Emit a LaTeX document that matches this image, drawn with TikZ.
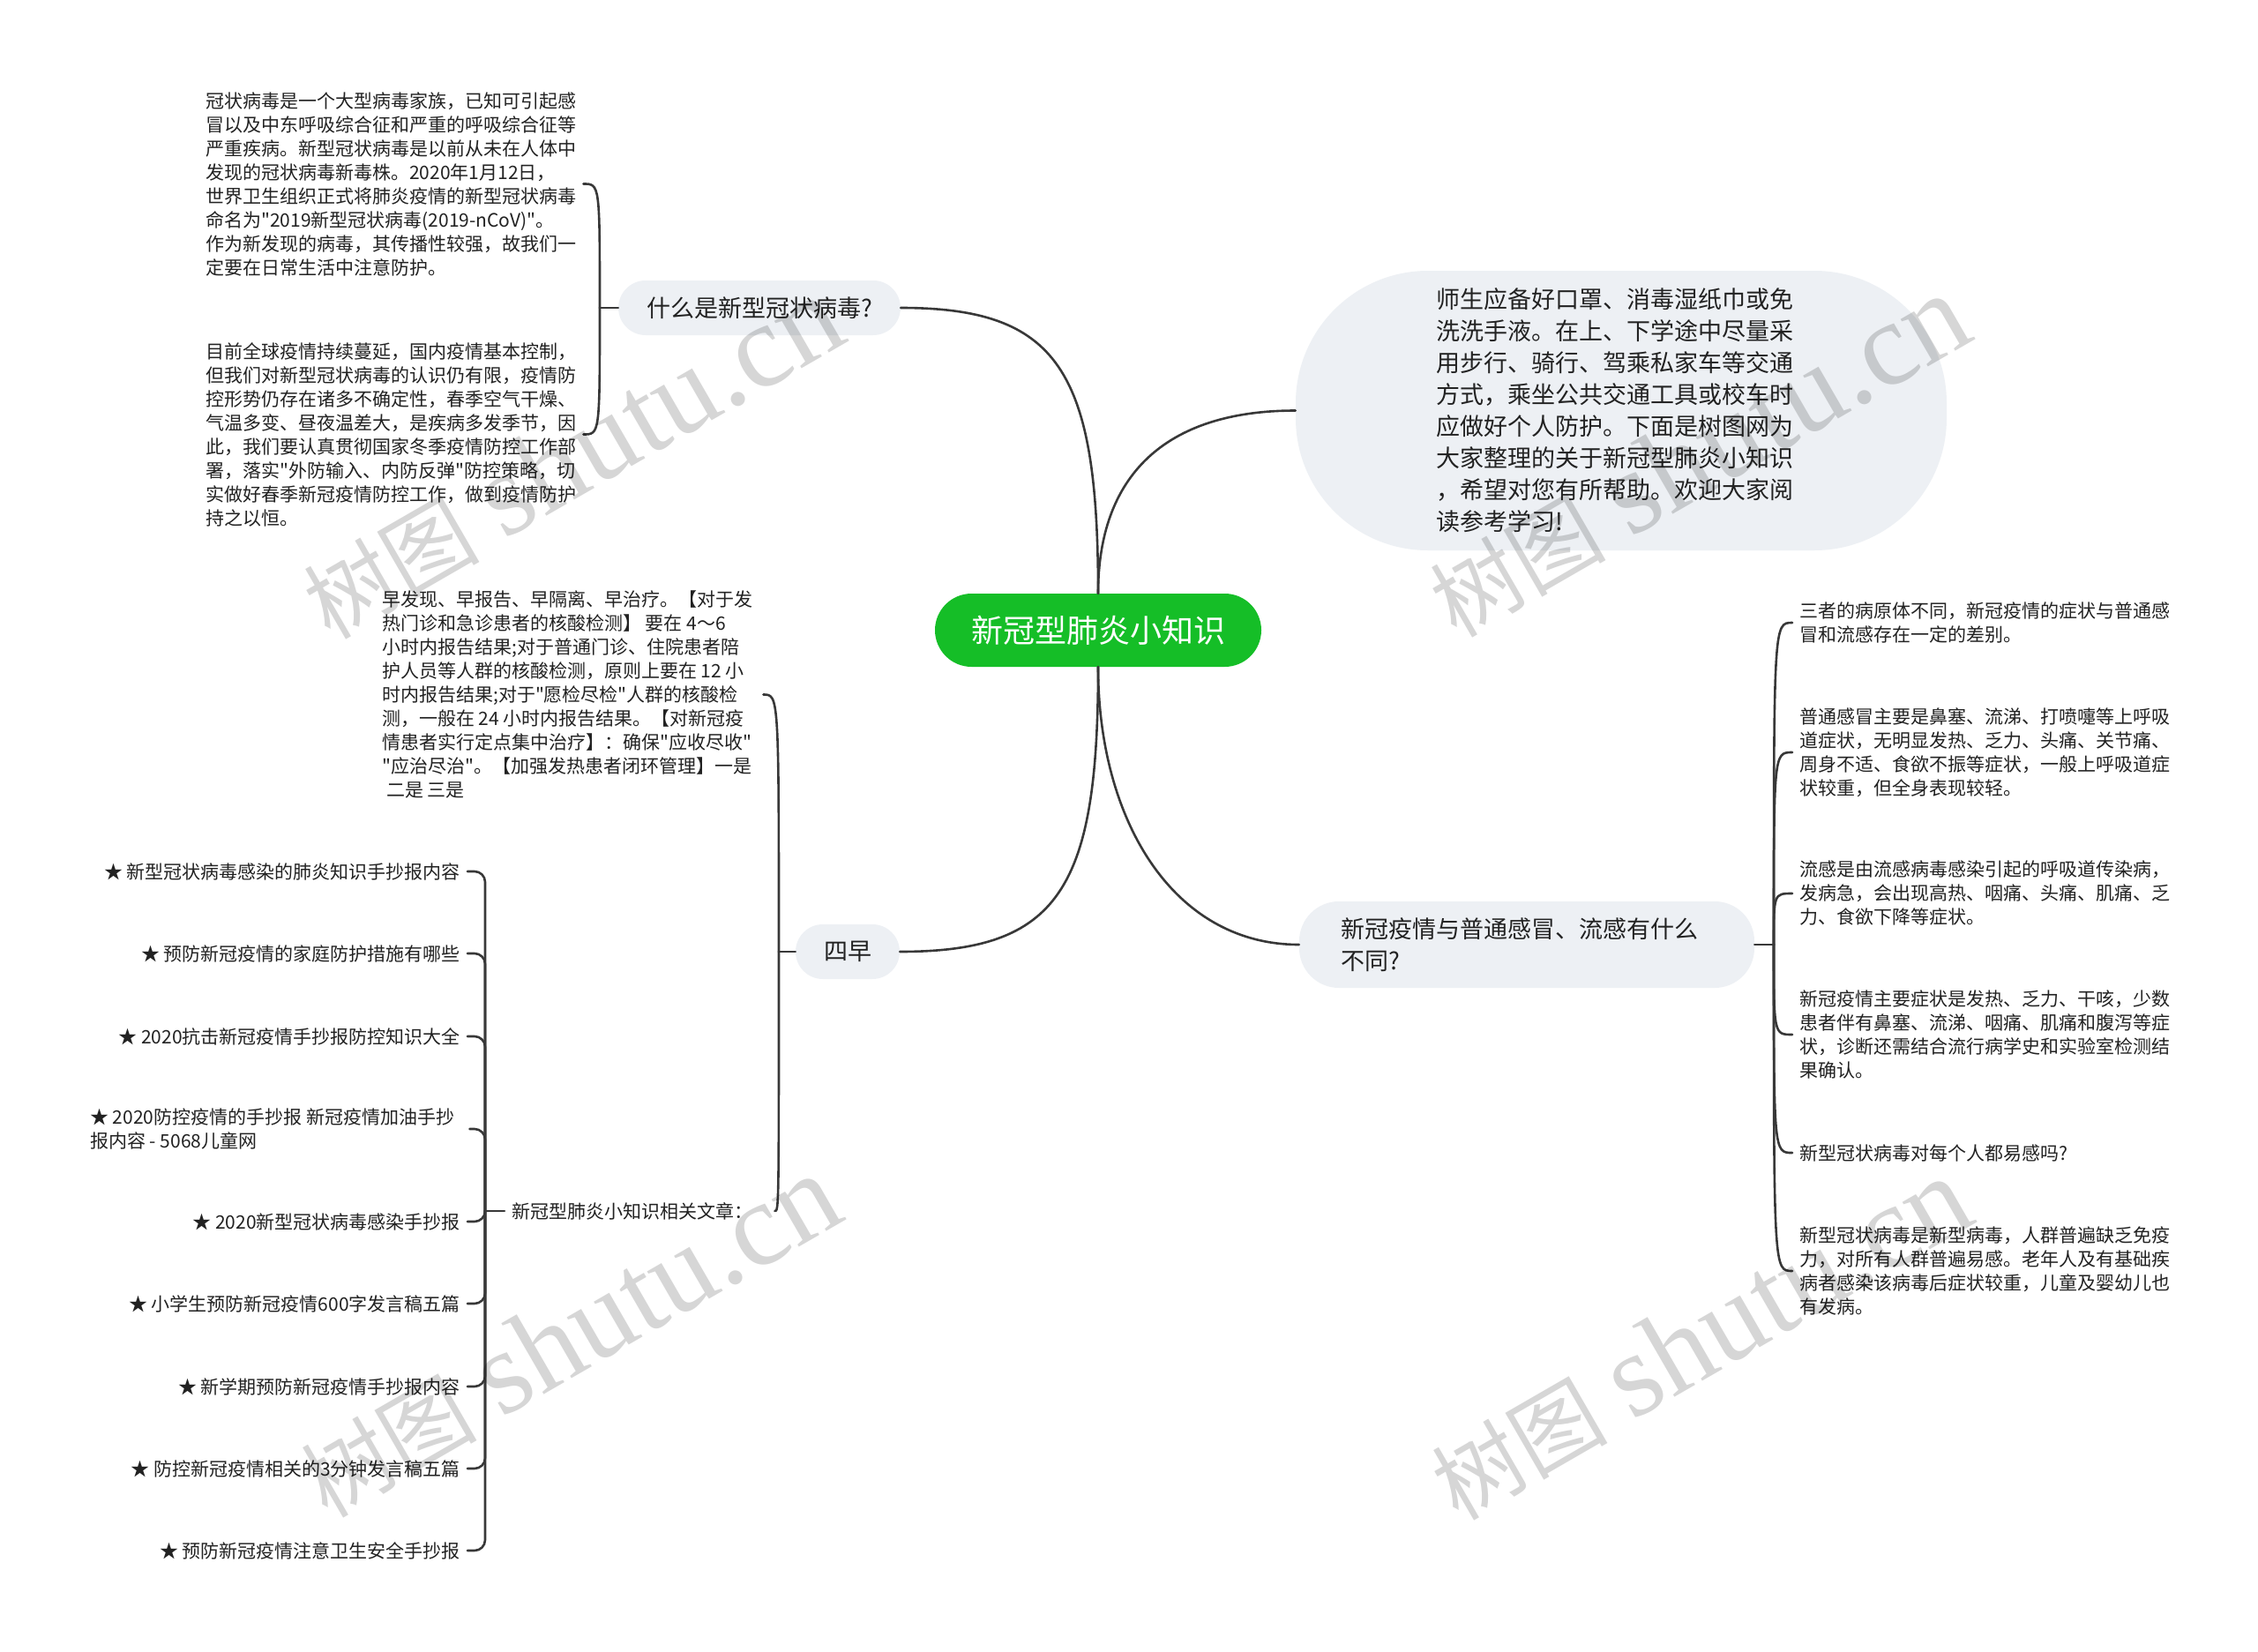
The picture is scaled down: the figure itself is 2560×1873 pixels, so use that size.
\documentclass[tikz,border=0pt]{standalone}
\usepackage{fontspec}
\setmainfont{Noto Sans CJK SC}
\newfontfamily\cjkf{Noto Sans CJK SC}
\newfontfamily\wmlatin{Liberation Serif}
\definecolor{rootg}{HTML}{15BE27}
\definecolor{nodebg}{HTML}{EDF0F4}
\definecolor{linec}{HTML}{383838}
\definecolor{txtc}{HTML}{222222}
\tikzset{
  conn/.style={draw=linec, line width=2.6pt, line cap=round},
  rootnode/.style={fill=rootg, text=white, rounded corners=41.5, minimum width=370, minimum height=83, inner sep=0, font=\cjkf\fontsize{36}{44}\selectfont},
  branchnode/.style={fill=nodebg, text=txtc, rounded corners=31, minimum height=62, inner xsep=32, inner ysep=0, font=\cjkf\fontsize{27}{36}\selectfont},
  bignode/.style={fill=nodebg, text=txtc, rounded corners=150, text width=420, inner xsep=159, inner ysep=0, minimum height=317, align=left, font=\cjkf\fontsize{27}{36}\selectfont},
  widenode/.style={fill=nodebg, text=txtc, rounded corners=45, text width=421, inner xsep=47.5, inner ysep=0, minimum height=98, align=left, font=\cjkf\fontsize{27}{36}\selectfont},
  smalltext/.style={text=txtc, align=left, inner xsep=8, inner ysep=2, font=\cjkf\fontsize{21}{27}\selectfont},
  wm/.style={text=black, text opacity=0.16, inner sep=0, rotate=30},
}
\begin{document}
\begin{tikzpicture}[x=1pt,y=-1pt]
\fill[white] (0,0) rectangle (2560,1873);
\useasboundingbox (0,0) rectangle (2560,1873);

% root and main branches
\node[rootnode] (root) at (1245,714.5) {新冠型肺炎小知识};
\node[branchnode] (q1) at (861,349) {什么是新型冠状病毒?};
\node[branchnode] (q4) at (961,1079) {四早};
\node[bignode] (intro) at (1838,465.5) {师生应备好口罩、消毒湿纸巾或免\\
洗洗手液。在上、下学途中尽量采\\
用步行、骑行、驾乘私家车等交通\\
方式，乘坐公共交通工具或校车时\\
应做好个人防护。下面是树图网为\\
大家整理的关于新冠型肺炎小知识\\
，希望对您有所帮助。欢迎大家阅\\
读参考学习!};
\node[widenode] (q3) at (1731,1071) {新冠疫情与普通感冒、流感有什么\\不同?};

% left texts
\node[smalltext, anchor=west] (t1) at (225,208.5) {冠状病毒是一个大型病毒家族，已知可引起感\\
冒以及中东呼吸综合征和严重的呼吸综合征等\\
严重疾病。新型冠状病毒是以前从未在人体中\\
发现的冠状病毒新毒株。2020年1月12日，\\
世界卫生组织正式将肺炎疫情的新型冠状病毒\\
命名为"2019新型冠状病毒(2019-nCoV)"。\\
作为新发现的病毒，其传播性较强，故我们一\\
定要在日常生活中注意防护。};
\node[smalltext, anchor=west] (t2) at (225,492.5) {目前全球疫情持续蔓延，国内疫情基本控制，\\
但我们对新型冠状病毒的认识仍有限，疫情防\\
控形势仍存在诸多不确定性，春季空气干燥、\\
气温多变、昼夜温差大，是疾病多发季节，因\\
此，我们要认真贯彻国家冬季疫情防控工作部\\
署，落实"外防输入、内防反弹"防控策略，切\\
实做好春季新冠疫情防控工作，做到疫情防护\\
持之以恒。};
\node[smalltext, anchor=west] (t3) at (425,787.5) {早发现、早报告、早隔离、早治疗。【对于发\\
热门诊和急诊患者的核酸检测】 要在 4～6\\
小时内报告结果;对于普通门诊、住院患者陪\\
护人员等人群的核酸检测，原则上要在 12 小\\
时内报告结果;对于"愿检尽检"人群的核酸检\\
测，一般在 24 小时内报告结果。【对新冠疫\\
情患者实行定点集中治疗】：确保"应收尽收"\\
"应治尽治"。【加强发热患者闭环管理】一是\\
\hspace*{5pt}二是 三是};
\node[smalltext, anchor=west] (rel) at (572,1373) {新冠型肺炎小知识相关文章：};

% article items
\node[smalltext, anchor=east] (i1) at (530,988) {★ 新型冠状病毒感染的肺炎知识手抄报内容};
\node[smalltext, anchor=east] (i2) at (530,1081) {★ 预防新冠疫情的家庭防护措施有哪些};
\node[smalltext, anchor=east] (i3) at (530,1175) {★ 2020抗击新冠疫情手抄报防控知识大全};
\node[smalltext, anchor=west] (i4) at (94,1280) {★ 2020防控疫情的手抄报 新冠疫情加油手抄\\报内容 - 5068儿童网};
\node[smalltext, anchor=east] (i5) at (530,1385) {★ 2020新型冠状病毒感染手抄报};
\node[smalltext, anchor=east] (i6) at (530,1478) {★ 小学生预防新冠疫情600字发言稿五篇};
\node[smalltext, anchor=east] (i7) at (530,1572) {★ 新学期预防新冠疫情手抄报内容};
\node[smalltext, anchor=east] (i8) at (530,1665) {★ 防控新冠疫情相关的3分钟发言稿五篇};
\node[smalltext, anchor=east] (i9) at (530,1758) {★ 预防新冠疫情注意卫生安全手抄报};

% right texts
\node[smalltext, anchor=west] (c1) at (2032,706) {三者的病原体不同，新冠疫情的症状与普通感\\冒和流感存在一定的差别。};
\node[smalltext, anchor=west] (c2) at (2032,853) {普通感冒主要是鼻塞、流涕、打喷嚏等上呼吸\\
道症状，无明显发热、乏力、头痛、关节痛、\\
周身不适、食欲不振等症状，一般上呼吸道症\\
状较重，但全身表现较轻。};
\node[smalltext, anchor=west] (c3) at (2032,1013) {流感是由流感病毒感染引起的呼吸道传染病，\\
发病急，会出现高热、咽痛、头痛、肌痛、乏\\
力、食欲下降等症状。};
\node[smalltext, anchor=west] (c4) at (2032,1173) {新冠疫情主要症状是发热、乏力、干咳，少数\\
患者伴有鼻塞、流涕、咽痛、肌痛和腹泻等症\\
状，诊断还需结合流行病学史和实验室检测结\\
果确认。};
\node[smalltext, anchor=west] (c5) at (2032,1307) {新型冠状病毒对每个人都易感吗?};
\node[smalltext, anchor=west] (c6) at (2032,1441) {新型冠状病毒是新型病毒，人群普遍缺乏免疫\\
力，对所有人群普遍易感。老年人及有基础疾\\
病者感染该病毒后症状较重，儿童及婴幼儿也\\
有发病。};

% junction points
\coordinate (j1) at (680,349);
\coordinate (j4) at (883,1079);
\coordinate (jr) at (550,1373);
\coordinate (jq) at (2011,1071);

% root connectors
\draw[conn] (root.north) .. controls (1245,420) and (1200,349) .. (q1.east);
\draw[conn] (root.south) .. controls (1245,1009) and (1200,1079) .. (q4.east);
\draw[conn] (root.north) .. controls (1245,540) and (1320,465.5) .. (intro.west);
\draw[conn] (root.south) .. controls (1245,930) and (1330,1071) .. (q3.west);

% q1 children
\draw[conn] (q1.west) -- (j1);
\draw[conn] (j1) .. controls (680,208.5) .. (t1.east);
\draw[conn] (j1) .. controls (680,492.5) .. (t2.east);

% q4 children
\draw[conn] (q4.west) -- (j4);
\draw[conn] (j4) .. controls (883,787.5) .. ([xshift=4pt]t3.east);
\draw[conn] (j4) .. controls (883,1373) .. ([xshift=17pt]rel.east);

% related articles
\draw[conn] (rel.west) -- (jr);
\foreach \n in {i1,i2,i3,i5,i6,i7,i8,i9}{
  \draw[conn, rounded corners=12] (jr) |- (\n.east);
}
\draw[conn, rounded corners=12] (jr) |- ([xshift=9pt]i4.east);

% q3 children
\draw[conn] (q3.east) -- (jq);
\foreach \n/\y in {c1/706,c2/853,c3/1013,c4/1173,c5/1307,c6/1441}{
  \draw[conn] (jq) .. controls (2011,\y) .. (\n.west);
}

% watermarks
\node[wm] (w1) at (648,519) {{\cjkf\fontsize{100}{100}\selectfont 树图}\hspace{28pt}{\wmlatin\fontsize{135}{135}\selectfont shutu.cn}};
\node[wm] (w2) at (1925,517) {{\cjkf\fontsize{100}{100}\selectfont 树图}\hspace{28pt}{\wmlatin\fontsize{135}{135}\selectfont shutu.cn}};
\node[wm] (w3) at (645,1515) {{\cjkf\fontsize{100}{100}\selectfont 树图}\hspace{28pt}{\wmlatin\fontsize{135}{135}\selectfont shutu.cn}};
\node[wm] (w4) at (1927,1518) {{\cjkf\fontsize{100}{100}\selectfont 树图}\hspace{28pt}{\wmlatin\fontsize{135}{135}\selectfont shutu.cn}};
\end{tikzpicture}
\end{document}
